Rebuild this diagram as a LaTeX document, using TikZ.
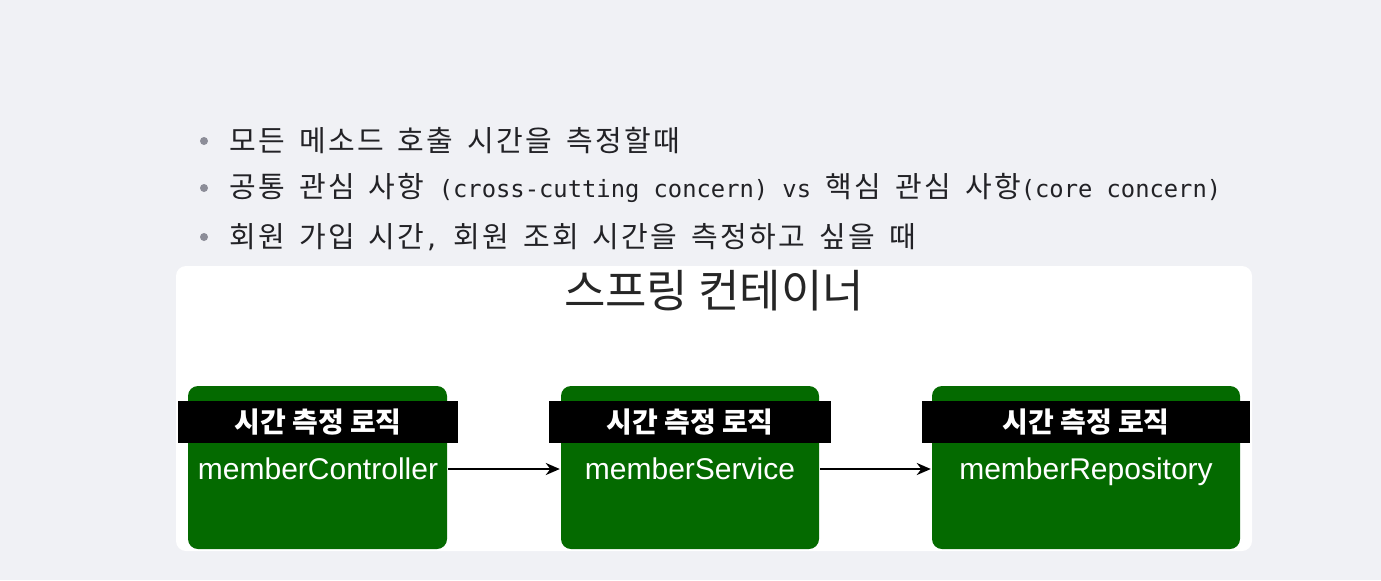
\documentclass[tikz,border=0pt]{standalone}
\usepackage{fontspec}
\usepackage{xcolor}
\usepackage{tikz}
\usetikzlibrary{arrows.meta}

\newfontfamily\kofont{Noto Sans CJK KR}
\newfontfamily\kolist[LetterSpace=8]{Noto Sans CJK KR}
\newfontfamily\monofont{DejaVu Sans Mono}
\newfontfamily\labelfont{Liberation Sans}

\definecolor{pagebg}{RGB}{240,241,245}
\definecolor{boxgreen}{RGB}{4,106,0}
\definecolor{bullettext}{RGB}{34,34,38}
\definecolor{bulletdot}{RGB}{140,141,152}

\newcommand\bulletfont{\kolist\fontsize{14.5pt}{16pt}\selectfont\spaceskip 7.1pt\relax}
\newcommand\codepart[1]{{\monofont\fontsize{11.9pt}{16pt}\selectfont #1}}

\tikzset{
  bean/.style={fill=boxgreen, rounded corners=5pt, inner sep=0pt, minimum height=81.5pt},
  timebar/.style={fill=black, text=white, inner sep=0pt, minimum height=21pt,
    font=\kofont\fontsize{14pt}{15pt}\selectfont\bfseries},
  beanname/.style={text=white, inner sep=0pt, anchor=base, font=\labelfont\fontsize{15pt}{16pt}\selectfont},
  bulletline/.style={anchor=west, inner sep=0pt, text=bullettext, font=\bulletfont},
  dot/.style={circle, fill=bulletdot, inner sep=0pt, minimum size=4pt}
}

\begin{document}
\begin{tikzpicture}[x=0.5pt,y=-0.5pt,->,>={Stealth[length=7pt,width=6pt]},line width=1.2pt]
    \fill[pagebg] (0,0) rectangle (1381,580);
    \useasboundingbox (0,0) rectangle (1381,580);

    % bullet list
    \node[dot] (d1) at (204,141) {};
    \node[dot] (d2) at (204,188) {};
    \node[dot] (d3) at (204,237) {};
    \node[bulletline] (l1) at (228,141) {모든 메소드 호출 시간을 측정할때};
    \node[bulletline] (l2) at (228,188) {공통 관심 사항 \codepart{(cross-cutting concern) vs }핵심 관심 사항\codepart{(core concern)}};
    \node[bulletline] (l3) at (228,237) {회원 가입 시간\codepart{,} 회원 조회 시간을 측정하고 싶을 때};

    % spring container
    \node[fill=white, rounded corners=5pt, inner sep=0pt, minimum width=538pt, minimum height=142.5pt] (container) at (714,408.5) {};
    \node[inner sep=0pt, font=\kofont\fontsize{22.5pt}{26pt}\selectfont, text=black!85] (title) at (714,291) {스프링 컨테이너};

    \node[bean, minimum width=129.5pt] (ctrl) at (317.5,467.5) {};
    \node[bean, minimum width=129pt] (svc) at (690,467.5) {};
    \node[bean, minimum width=154pt] (repo) at (1086,467.5) {};

    \node[timebar, minimum width=140pt] (t1) at (318,422) {시간 측정 로직};
    \node[timebar, minimum width=141pt] (t2) at (690,422) {시간 측정 로직};
    \node[timebar, minimum width=164pt] (t3) at (1086,422) {시간 측정 로직};

    \node[beanname] (n1) at (318,479) {memberController};
    \node[beanname] (n2) at (690,479) {memberService};
    \node[beanname] (n3) at (1086,479) {memberRepository};

    \draw (ctrl.east |- 0,469) -- (svc.west |- 0,469);
    \draw (svc.east |- 0,469) -- (repo.west |- 0,469);
\end{tikzpicture}
\end{document}
